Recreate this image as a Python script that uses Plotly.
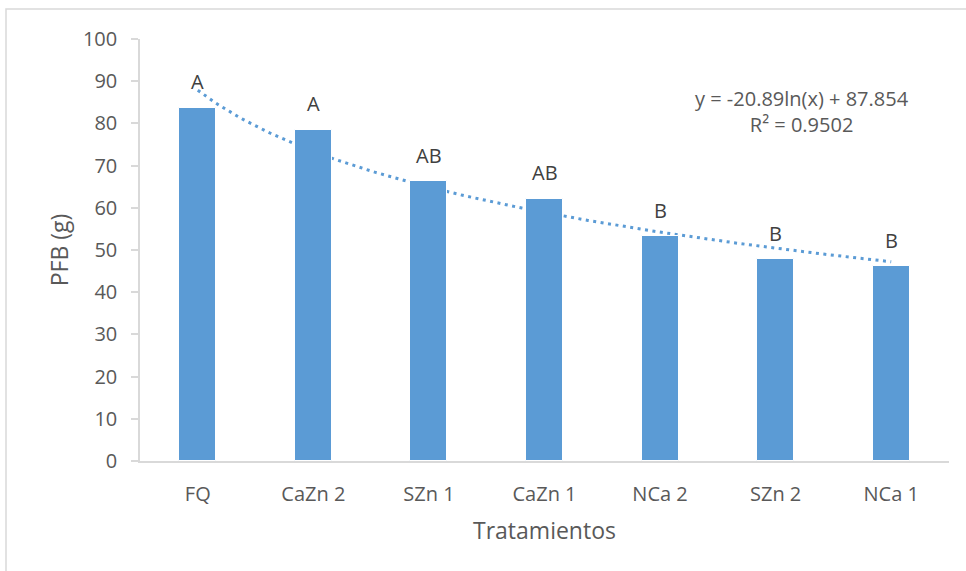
import numpy as np
import plotly.graph_objects as go

categories = ["FQ", "CaZn 2", "SZn 1", "CaZn 1", "NCa 2", "SZn 2", "NCa 1"]
pfb_values = [83.7, 78.5, 66.3, 62.1, 53.3, 47.8, 46.1]
letters = ["A", "A", "AB", "AB", "B", "B", "B"]
trend_slope = -20.89
trend_intercept = 87.854
r_squared = 0.9502
y_ticks = [0, 10, 20, 30, 40, 50, 60, 70, 80, 90, 100]

positions = list(range(1, len(categories) + 1))
trend_x = np.linspace(1, len(categories), 200)
trend_y = trend_slope * np.log(trend_x) + trend_intercept

BAR = "#5b9bd5"
GRID = "#d9d9d9"
TXT = "#595959"
FONT = "Open Sans"

fig = go.Figure()
# trendline on base axes (drawn below), bars on overlay axes (drawn above)
fig.add_trace(go.Scatter(x=trend_x, y=trend_y, mode="lines",
                         line=dict(color=BAR, width=3, dash="3px,4.5px"),
                         showlegend=False, hoverinfo="skip", xaxis="x", yaxis="y"))
fig.add_trace(go.Bar(x=positions, y=pfb_values, marker=dict(color=BAR, line=dict(color="white", width=1)),
                     width=0.32, showlegend=False, xaxis="x2", yaxis="y2"))

annotations = []
for p, v, t in zip(positions, pfb_values, letters):
    annotations.append(dict(x=p, y=v, xref="x", yref="y", text=t, showarrow=False,
                            yshift=26, font=dict(family=FONT, size=20, color="#404040")))
annotations.append(dict(x=0.818, y=0.829, xref="paper", yref="paper", showarrow=False,
                        xanchor="center", yanchor="middle",
                        text=f"y = {trend_slope}ln(x) + {trend_intercept}<br>R² = {r_squared}",
                        align="center", font=dict(family=FONT, size=20, color=TXT)))

xr = [0.5, len(categories) + 0.5]
fig.update_layout(
    width=966, height=571,
    margin=dict(l=140, r=17, t=39, b=110),
    paper_bgcolor="white", plot_bgcolor="white",
    font=dict(family=FONT, size=20, color=TXT),
    bargap=0,
    xaxis=dict(range=xr, tickvals=positions, ticktext=categories, showgrid=False, zeroline=False,
               showline=True, linecolor=GRID, linewidth=1.5, ticks="", ticklabelstandoff=14,
               tickfont=dict(size=20, color=TXT),
               title=dict(text="Tratamientos", font=dict(size=23, color=TXT), standoff=17)),
    yaxis=dict(range=[0, 100], tickvals=y_ticks, showgrid=False, zeroline=False,
               showline=True, linecolor=GRID, linewidth=1.5, ticks="outside", ticklen=7,
               tickcolor=GRID, tickwidth=1.5, ticklabelstandoff=10,
               tickfont=dict(size=20, color=TXT),
               title=dict(text="PFB (g)", font=dict(size=23, color=TXT), standoff=8)),
    xaxis2=dict(range=xr, overlaying="x", visible=False),
    yaxis2=dict(range=[0, 100], overlaying="y", visible=False),
    annotations=annotations,
    shapes=[dict(type="rect", xref="paper", yref="paper",
                 x0=(6 - 140) / 809, x1=1.2, y0=-0.5, y1=(461 - 9) / 422,
                 line=dict(color=GRID, width=1.5), fillcolor="rgba(0,0,0,0)", layer="below")],
)

fig.write_html("out.html", config={"displayModeBar": False},
               post_script="document.body.style.margin='0';")
